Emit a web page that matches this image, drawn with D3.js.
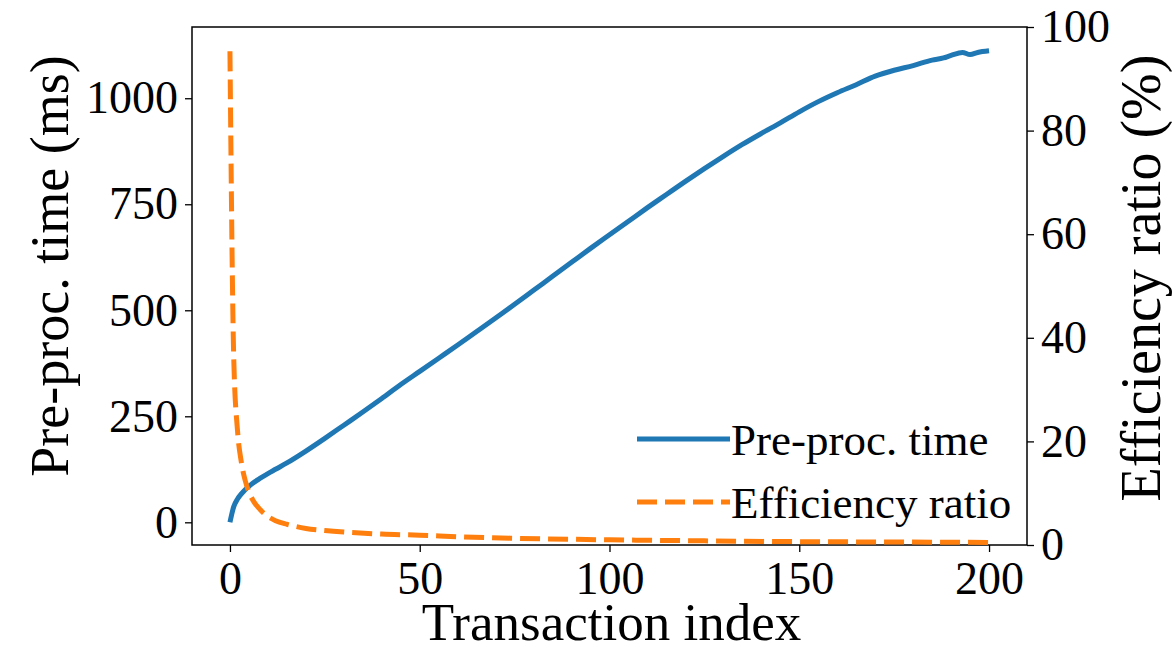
<!DOCTYPE html>
<html>
<head>
<meta charset="utf-8">
<script src="https://cdn.jsdelivr.net/npm/d3@7"></script>
<style>
  html, body { margin: 0; padding: 0; background: #fff; }
  svg { display: block; }
  text { font-family: "Liberation Serif", "Times New Roman", serif; fill: #000; }
</style>
</head>
<body>
<svg id="chart" width="1176" height="652"></svg>
<script>
// Transaction indices at which each series was sampled
const timeIndex = [0, 1, 2, 3, 4, 5, 6, 8, 10, 12, 15, 20, 25, 30, 35, 40, 45, 50, 55, 60, 65, 70, 75, 80, 85, 90, 95, 100,
  105, 110, 115, 120, 125, 130, 135, 140, 145, 150, 155, 160, 165, 170, 175, 180, 185, 188, 190, 193, 195, 197, 200];
// Pre-processing time (ms), left axis
const preprocTime = [0, 37, 55, 67, 77, 85, 92, 104, 115, 125, 140, 168, 198, 229, 260, 292, 325, 356, 387, 418, 450, 482, 514, 547, 580, 613, 646, 678,
  710, 742, 773, 804, 834, 863, 891, 917, 942, 968, 992, 1013, 1032, 1052, 1066, 1077, 1090, 1095, 1101, 1108, 1103, 1108, 1112];

const ratioIndex = [0, 1, 2, 3, 4, 5, 6, 8, 10, 12, 15, 20, 25, 30, 40, 50, 60, 75, 100, 125, 150, 175, 200];
// Efficiency ratio (%), right axis
const efficiencyRatio = [95.3, 36, 22, 16, 12.5, 10.2, 8.7, 6.8, 5.5, 4.7, 4.0, 3.2, 2.8, 2.5, 2.1, 1.9, 1.6, 1.3, 1.0, 0.8, 0.65, 0.57, 0.5];

const xTicks = [0, 50, 100, 150, 200];
const leftTicks = [0, 250, 500, 750, 1000];
const rightTicks = [0, 20, 40, 60, 80, 100];

const seriesNames = ["Pre-proc. time", "Efficiency ratio"];
const seriesColors = ["#1f77b4", "#ff7f0e"];

const svg = d3.select("#chart");
const plot = { left: 192, right: 1027, top: 27, bottom: 545 };

const x = d3.scaleLinear().domain([-10, 210]).range([plot.left, plot.right]);
const yLeft = d3.scaleLinear().domain([-53.5, 1168]).range([plot.bottom, plot.top]);
const yRight = d3.scaleLinear().domain([0, 100]).range([plot.bottom, plot.top]);

const tickFont = 46;

// Axes
const gx = svg.append("g").attr("transform", `translate(0,${plot.bottom})`)
  .call(d3.axisBottom(x).tickValues(xTicks).tickSize(7).tickPadding(9).tickFormat(d3.format("d")));
const gl = svg.append("g").attr("transform", `translate(${plot.left},0)`)
  .call(d3.axisLeft(yLeft).tickValues(leftTicks).tickSize(7).tickPadding(7).tickFormat(d3.format("d")));
const gr = svg.append("g").attr("transform", `translate(${plot.right},0)`)
  .call(d3.axisRight(yRight).tickValues(rightTicks).tickSize(7).tickPadding(7).tickFormat(d3.format("d")));

[gx, gl, gr].forEach(g => {
  g.select(".domain").remove();
  g.selectAll(".tick line").attr("stroke", "#000").attr("stroke-width", 1.3);
  g.selectAll(".tick text").attr("font-size", tickFont)
    .style("font-family", "'Liberation Serif', 'Times New Roman', serif").attr("fill", "#000");
});

// Frame
svg.append("rect")
  .attr("x", plot.left).attr("y", plot.top)
  .attr("width", plot.right - plot.left).attr("height", plot.bottom - plot.top)
  .attr("fill", "none").attr("stroke", "#000").attr("stroke-width", 1.5);

// Series lines
svg.append("clipPath").attr("id", "plot-clip").append("rect")
  .attr("x", plot.left).attr("y", plot.top)
  .attr("width", plot.right - plot.left).attr("height", plot.bottom - plot.top);

const lines = svg.append("g").attr("clip-path", "url(#plot-clip)");

const timeLine = d3.line()
  .x((d, i) => x(timeIndex[i]))
  .y(d => yLeft(d))
  .curve(d3.curveMonotoneX);

const ratioLine = d3.line()
  .x((d, i) => x(ratioIndex[i]))
  .y(d => yRight(d))
  .curve(d3.curveMonotoneX);

lines.append("path").datum(preprocTime)
  .attr("d", timeLine).attr("fill", "none")
  .attr("stroke", seriesColors[0]).attr("stroke-width", 5).attr("stroke-linejoin", "round");

lines.append("path").datum(efficiencyRatio)
  .attr("d", ratioLine).attr("fill", "none")
  .attr("stroke", seriesColors[1]).attr("stroke-width", 5).attr("stroke-dasharray", "20,8");

// Axis titles
svg.append("text")
  .attr("x", (plot.left + plot.right) / 2 + 2).attr("y", 640)
  .attr("text-anchor", "middle").attr("font-size", 53)
  .text("Transaction index");

svg.append("text")
  .attr("transform", `translate(68,266) rotate(-90)`)
  .attr("text-anchor", "middle").attr("font-size", 54)
  .text("Pre-proc. time (ms)");

svg.append("text")
  .attr("transform", `translate(1160,278) rotate(-90)`)
  .attr("text-anchor", "middle").attr("font-size", 56)
  .text("Efficiency ratio (%)");

// Legend
const legend = svg.append("g");
const legendRows = [{ y: 439, dash: null }, { y: 502, dash: "20,8" }];
legendRows.forEach((row, i) => {
  legend.append("line")
    .attr("x1", 637).attr("x2", 730).attr("y1", row.y).attr("y2", row.y)
    .attr("stroke", seriesColors[i]).attr("stroke-width", 5)
    .attr("stroke-dasharray", row.dash);
  legend.append("text")
    .attr("x", 731).attr("y", row.y + 16)
    .attr("font-size", 45)
    .text(seriesNames[i]);
});
</script>
</body>
</html>
